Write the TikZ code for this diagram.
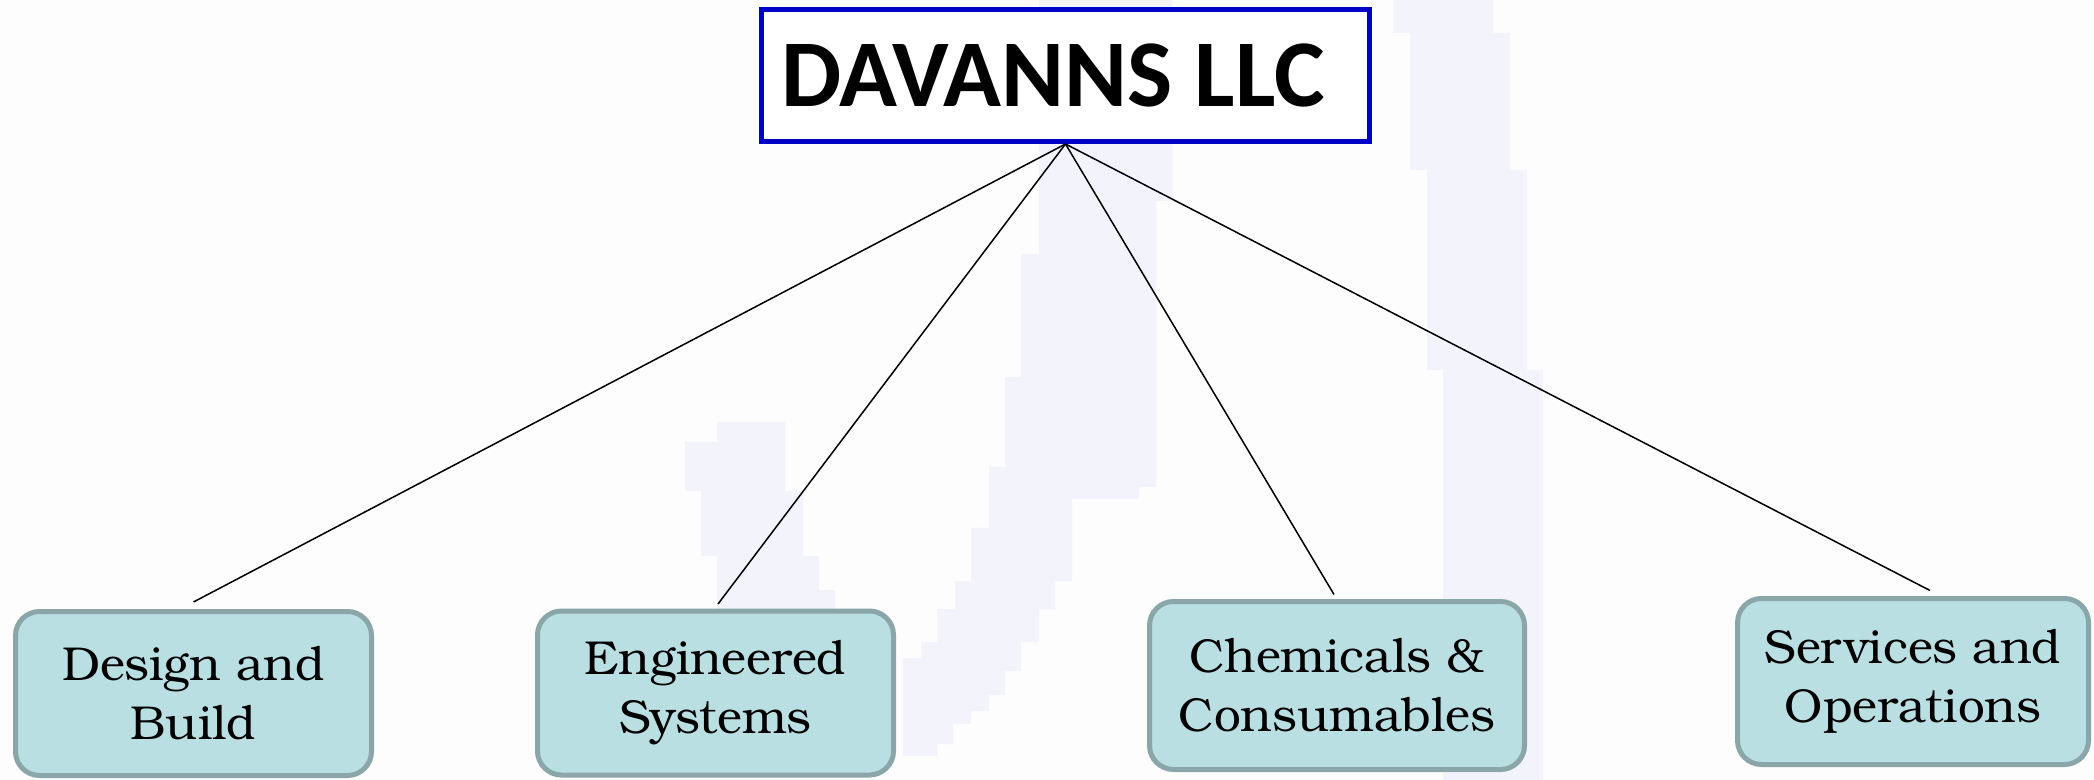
\documentclass[tikz,border=0pt]{standalone}
\usepackage{fontspec}
\newfontfamily\titlefont{Carlito}
\newfontfamily\bookfont{TeX Gyre Bonum}
\usetikzlibrary{calc}
\definecolor{bgc}{RGB}{253,253,253}
\definecolor{wm}{RGB}{243,243,251}
\definecolor{tblue}{RGB}{0,0,200}
\definecolor{cfill}{RGB}{185,223,227}
\definecolor{cdraw}{RGB}{138,166,169}
\begin{document}
\begin{tikzpicture}[x=0.5pt,y=-0.5pt,
  wmark/.style={fill=wm,draw=none},
  topbox/.style={draw=tblue,line width=2.5pt,fill=white,minimum width=304pt,minimum height=66pt,inner sep=0pt},
  toptext/.style={font=\titlefont\bfseries\fontsize{47.8}{50}\selectfont,inner sep=0pt,anchor=base west},
  child/.style={draw=cdraw,fill=cfill,line width=2.5pt,rounded corners=12pt,align=center,inner sep=0pt,
    font=\bookfont\fontsize{23.8}{29.5}\selectfont},
  link/.style={draw=black,line width=0.75pt}]
\fill[bgc] (0,0) rectangle (2094,780);
\useasboundingbox (0,0) rectangle (2094,780);
% watermark
\fill[wmark] (1039,0) -- (1172,0) -- (1172,201) -- (1156,201) -- (1156,487) -- (1139,487) -- (1139,499) -- (1072,499) -- (1072,581) -- (1055,581) -- (1055,609) -- (1039,609) -- (1039,642) -- (1021,642) -- (1021,671) -- (1005,671) -- (1005,695) -- (989,695) -- (989,711) -- (971,711) -- (971,724) -- (953,724) -- (953,744) -- (937,744) -- (937,756) -- (903,756) -- (903,658) -- (921,658) -- (921,642) -- (937,642) -- (937,609) -- (955,609) -- (955,581) -- (971,581) -- (971,528) -- (989,528) -- (989,467) -- (1005,467) -- (1005,377) -- (1021,377) -- (1021,254) -- (1039,254) -- cycle;
\fill[wmark] (685,442) -- (717,442) -- (717,422) -- (785,422) -- (785,491) -- (803,491) -- (803,556) -- (819,556) -- (819,590) -- (835,590) -- (835,640) -- (717,640) -- (717,556) -- (701,556) -- (701,491) -- (685,491) -- cycle;
\fill[wmark] (1393,0) -- (1493,0) -- (1493,33) -- (1510,33) -- (1510,170) -- (1527,170) -- (1527,370) -- (1543,370) -- (1543,780) -- (1443,780) -- (1443,370) -- (1427,370) -- (1427,170) -- (1410,170) -- (1410,33) -- (1393,33) -- cycle;
% nodes
\node[topbox] (title) at (1065.5,75.5) {};
\node[toptext] (ttext) at (781,107) {DAVANNS LLC};
\node[child,minimum width=178pt,minimum height=82pt] (design) at (193.5,693.5) {Design and\\Build};
\node[child,minimum width=178pt,minimum height=82pt] (eng) at (715.5,693) {Engineered\\Systems};
\node[child,minimum width=187.5pt,minimum height=84pt] (chem) at (1337,685.5) {Chemicals \&\\Consumables};
\node[child,minimum width=175.5pt,minimum height=83pt] (serv) at (1913,681.5) {Services and\\Operations};
% links
\draw[link] (title.south) -- ([yshift=3.5pt]design.north);
\draw[link] (title.south) -- ([xshift=1.25pt,yshift=2.25pt]eng.north);
\draw[link] (title.south) -- ([xshift=-1.5pt,yshift=2.25pt]chem.north);
\draw[link] (title.south) -- ([xshift=8.5pt,yshift=2.75pt]serv.north);
\end{tikzpicture}
\end{document}
